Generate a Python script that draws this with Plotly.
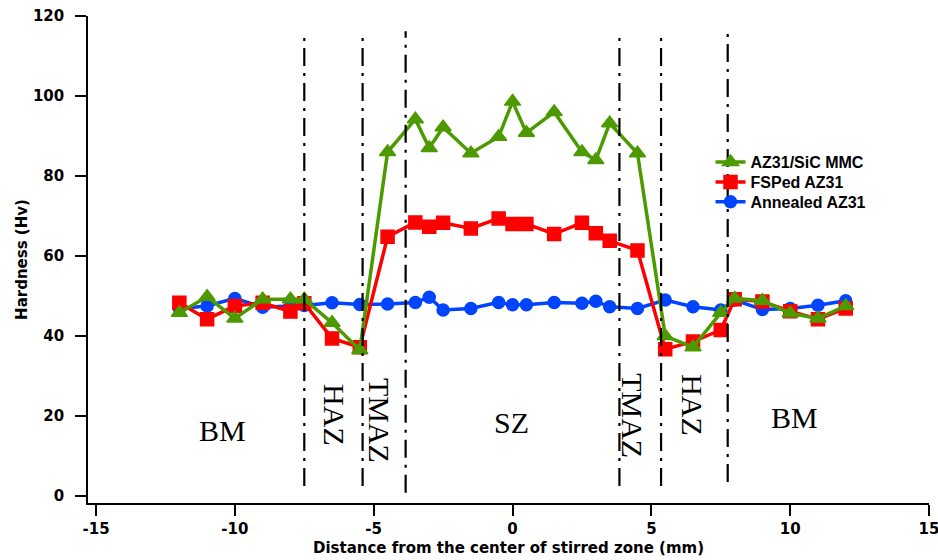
import plotly.graph_objects as go

# Indentation positions across the processed zone (mm)
distance_mm = [-12, -11, -10, -9, -8, -7.5, -6.5, -5.5, -4.5, -3.5, -3, -2.5, -1.5, -0.5,
               0, 0.5, 1.5, 2.5, 3, 3.5, 4.5, 5.5, 6.5, 7.5, 8, 9, 10, 11, 12]

# Microhardness profiles (Hv)
annealed_az31 = [46.9, 47.5, 49.4, 47.2, 47.5, 47.6, 48.3, 47.9, 48.0, 48.4, 49.7, 46.5, 46.9, 48.4,
                 47.8, 47.8, 48.4, 48.2, 48.7, 47.3, 46.9, 49.0, 47.3, 46.5, 49.0, 46.6, 46.9, 47.7, 48.8]
fsped_az31 = [48.3, 44.2, 47.5, 48.3, 46.1, 48.2, 39.4, 37.2, 64.8, 68.4, 67.3, 68.3, 66.9, 69.4,
              68.0, 68.0, 65.5, 68.3, 65.7, 63.8, 61.4, 36.7, 38.6, 41.5, 49.2, 48.6, 46.2, 44.2, 46.9]
az31_sic_mmc = [45.8, 49.8, 44.4, 49.2, 49.2, 49.2, 43.3, 36.5, 86.0, 94.2, 87.0, 92.2, 85.7, 89.8,
                98.6, 90.8, 96.0, 86.0, 84.0, 93.2, 85.7, 40.0, 37.2, 45.8, 49.4, 48.8, 45.7, 44.4, 47.5]

# Axis ticks
x_ticks = [-15, -10, -5, 0, 5, 10, 15]
x_tick_text = ["-15", "-10", "-5", "0", "5", "10", "15"]
y_ticks = [0, 20, 40, 60, 80, 100, 120]

# Zone boundaries (mm) and their vertical extent (Hv units)
zone_bounds = [-7.5, -5.4, -3.85, 3.85, 5.35, 7.75]
bound_bottom = [2.5, 2.5, 0.8, 2.5, 2.5, 3.5]
bound_top = [115.8, 115.8, 116.2, 115.8, 115.8, 116.8]

# Zone labels: text, x (mm), y (Hv), rotation
zone_text = ["BM", "HAZ", "TMAZ", "SZ", "TMAZ", "HAZ", "BM"]
zone_x = [-10.45, -6.39, -4.77, -0.05, 4.34, 6.5, 10.14]
zone_y = [16.5, 20.2, 19.0, 18.5, 20.2, 22.7, 19.7]
zone_angle = [0, 90, 90, 0, 90, 90, 0]

fig = go.Figure()

# (name, values, colour, symbol, size, legend id, legend y)
series = [
    ("Annealed AZ31", annealed_az31, "#0044FF", "circle", 12, "legend3", 0.6534),
    ("FSPed AZ31", fsped_az31, "#FF0000", "square", 13, "legend2", 0.6937),
    ("AZ31/SiC MMC", az31_sic_mmc, "#4C9A00", "triangle-up", 14, "legend", 0.7347),
]
legend_font = dict(family="Liberation Sans, Arial, sans-serif", size=16,
                   color="black", weight="bold")
legend_cfg = {}
for name, vals, color, symbol, size, leg, ly in series:
    fig.add_trace(go.Scatter(
        x=distance_mm, y=vals, name=name, mode="lines+markers",
        line=dict(color=color, width=3.5),
        marker=dict(symbol=symbol, size=size, color=color,
                    line=dict(color=color, width=1.5)),
        legend=leg,
    ))
    legend_cfg[leg] = dict(x=0.7402, y=ly, xanchor="left", yanchor="top",
                           bgcolor="rgba(0,0,0,0)", font=legend_font,
                           itemsizing="trace")

for xb, y0, y1 in zip(zone_bounds, bound_bottom, bound_top):
    fig.add_shape(type="line", xref="x", yref="y", x0=xb, x1=xb, y0=y0, y1=y1,
                  line=dict(color="black", width=2.2, dash="18px,7px,3px,7px"),
                  layer="above")

for t, zx, zy, ang in zip(zone_text, zone_x, zone_y, zone_angle):
    fig.add_annotation(x=zx, y=zy, xref="x", yref="y", text=t, showarrow=False,
                       textangle=ang,
                       font=dict(family="Liberation Serif, Times New Roman, serif",
                                 size=30, color="black"))

axis_font = dict(family="DejaVu Sans, sans-serif", size=15,
                 color="black", weight="bold")

fig.update_xaxes(
    range=[-15.29, 15], tickvals=x_ticks, ticktext=x_tick_text,
    showline=True, linecolor="black", linewidth=1.6,
    ticks="outside", ticklen=11, tickwidth=1.6, tickcolor="black",
    showgrid=False, zeroline=False, tickfont=axis_font,
    ticklabeloverflow="allow", automargin=False,
    title=dict(text="Distance from the center of stirred zone (mm)",
               font=axis_font, standoff=6),
)
fig.update_yaxes(
    range=[-1.75, 120], tickvals=y_ticks,
    showline=True, linecolor="black", linewidth=1.6,
    ticks="outside", ticklen=11, tickwidth=1.6, tickcolor="black",
    showgrid=False, zeroline=False, tickfont=axis_font, ticklabelstandoff=8,
    automargin=False,
    title=dict(text="Hardness (Hv)", font=axis_font, standoff=2),
)

fig.update_layout(
    width=938, height=560,
    margin=dict(l=88, r=9, t=16, b=57),
    paper_bgcolor="white", plot_bgcolor="white",
    showlegend=True,
    **legend_cfg,
)

fig.write_html("out.html")
